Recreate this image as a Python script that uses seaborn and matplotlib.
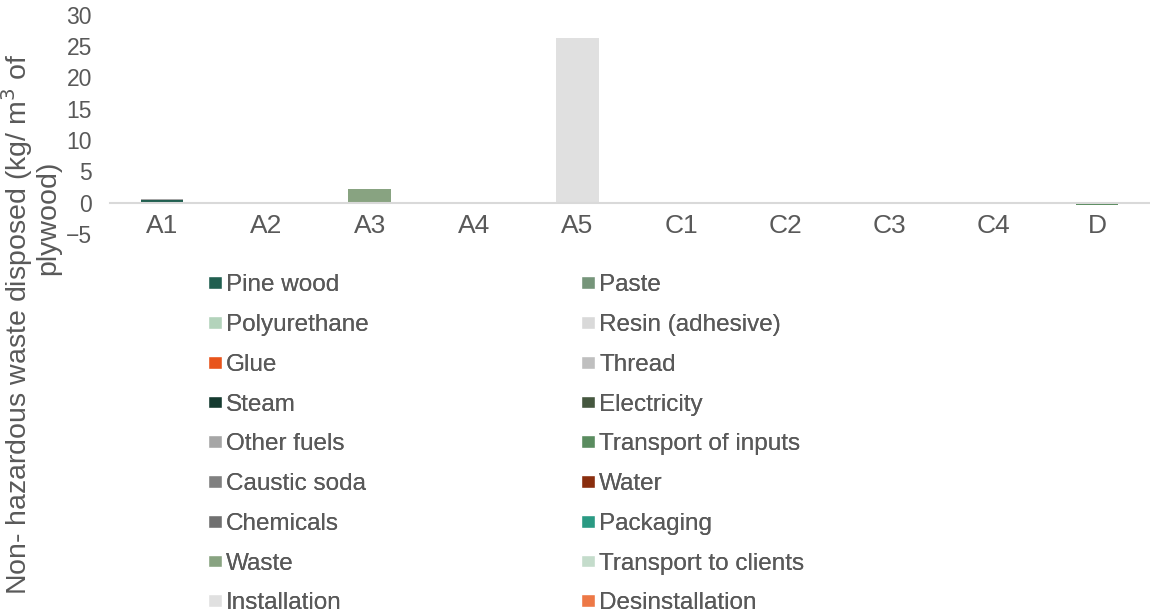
"""Non-hazardous waste disposed per life-cycle stage (stacked bars)."""
from matplotlib import pyplot as plt
from matplotlib.patches import Patch
import pandas as pd
import seaborn as sns
import numpy as np

stages = ["A1", "A2", "A3", "A4", "A5", "C1", "C2", "C3", "C4", "D"]

series = ["Pine wood", "Paste", "Polyurethane", "Resin (adhesive)", "Glue",
          "Thread", "Steam", "Electricity", "Other fuels", "Transport of inputs",
          "Caustic soda", "Water", "Chemicals", "Packaging", "Waste",
          "Transport to clients", "Installation", "Desinstallation"]

colors = ["#215f50", "#76957a", "#b3d3bb", "#d9d9d9", "#e8541b",
          "#bfbfbf", "#143a2f", "#45573f", "#a6a6a6", "#5a8c5f",
          "#808080", "#8a2e0e", "#707070", "#2a9a83", "#88a381",
          "#c4dccb", "#e0e0e0", "#ed7846"]

# values (kg / m3 plywood)
pine_wood = [0.45, 0, 0, 0, 0, 0, 0, 0, 0, 0]
other_fuels = [0.08, 0.06, 0, 0, 0, 0.03, 0.03, 0.05, 0.05, 0]
waste = [0, 0, 2.2, 0, 0, 0, 0, 0, 0, 0]
installation = [0, 0, 0, 0, 26.3, 0, 0, 0, 0, 0]
transport_inputs = [0, 0, 0, 0, 0, 0, 0, 0, 0, -0.3]

df = pd.DataFrame(0.0, index=stages, columns=series)
df["Pine wood"] = pine_wood
df["Other fuels"] = other_fuels
df["Waste"] = waste
df["Installation"] = installation
df["Transport of inputs"] = transport_inputs

sns.set_theme(style="white")
plt.rcParams["font.family"] = ["Liberation Sans", "DejaVu Sans"]
grey = "#595959"

fig = plt.figure(figsize=(11.5, 6.14), dpi=100)
ax = fig.add_axes([0.0957, 0.619, 0.9033, 0.3567])
df.plot(kind="bar", stacked=True, color=colors, width=0.41, ax=ax,
        legend=False, linewidth=0)

ax.set_ylim(-5, 30)
ax.set_xlim(-0.5, 9.5)
ax.set_yticks(np.arange(-5, 31, 5))
for s in ["top", "right", "left"]:
    ax.spines[s].set_visible(False)
ax.spines["bottom"].set_position(("data", 0))
ax.spines["bottom"].set_color("#d9d9d9")
ax.spines["bottom"].set_linewidth(1.5)
ax.tick_params(axis="x", length=0, pad=8, labelsize=19, labelcolor=grey,
               rotation=0)
ax.tick_params(axis="y", length=0, pad=13, labelsize=16.5, labelcolor=grey)
ax.set_xlabel("")

fig.text(0.0148, 0.472, "Non- hazardous waste disposed (kg/ m$^3$ of",
         rotation=90, ha="center", va="center", fontsize=20.5, color=grey)
fig.text(0.0417, 0.645, "plywood)", rotation=90, ha="center", va="center",
         fontsize=20.5, color=grey)

handles = [Patch(facecolor=c, label=n) for n, c in zip(series, colors)]
for col, x0 in [(0, 0.181), (1, 0.5055)]:
    leg = fig.legend(handles=handles[col::2], loc="upper left",
                     bbox_to_anchor=(x0, 0.553), frameon=False, fontsize=17.5,
                     labelcolor=grey, handlelength=0.55, handleheight=0.42,
                     handletextpad=0.18, labelspacing=0.73, borderpad=0,
                     borderaxespad=0)
    fig.add_artist(leg)

fig.savefig("out.png", dpi=100)
